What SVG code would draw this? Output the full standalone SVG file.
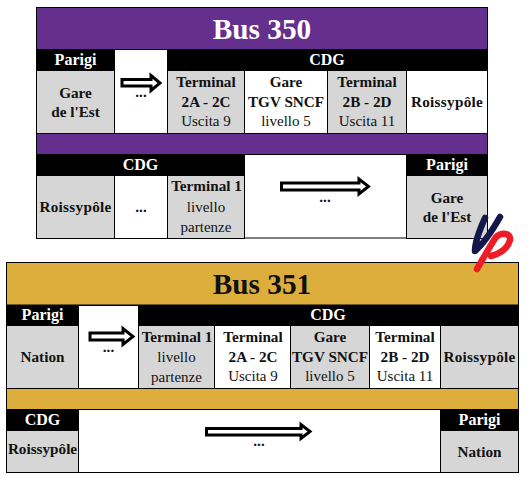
<svg xmlns="http://www.w3.org/2000/svg" width="532" height="478" viewBox="0 0 532 478">
<style>
text{font-family:"Liberation Serif","Times New Roman",serif;text-anchor:middle;fill:#111}
.b{font-weight:bold;font-size:15.2px}
.s{letter-spacing:.3px}
.r{font-size:15px}
.w{font-weight:bold;font-size:16px;fill:#fff}
.t{font-weight:bold;font-size:29.3px}
.k{fill:#000}
.g{fill:#d6d6d6;stroke:#000}
.n{fill:#fff;stroke:#000}
.ar{fill:#fff;stroke:#000;stroke-width:3}
</style>
<rect width="532" height="478" fill="#fff"/>
<g id="bus350">
<rect x="36.5" y="7.5" width="451" height="230.5" fill="#fff" stroke="#000"/>
<rect x="36.5" y="7.5" width="451" height="42" fill="#652f8e" stroke="#000"/>
<text class="t" x="262" y="39" style="fill:#fff">Bus 350</text>
<rect x="36.5" y="133.5" width="451" height="21" fill="#652f8e" stroke="#000"/>
</g>
<g id="bus350-parigi-top">
<rect class="k" x="36" y="49" width="79" height="21"/>
<text class="w" x="75.5" y="65">Parigi</text>
<rect class="g" x="36.5" y="70.5" width="78" height="63"/>
<text class="b" x="75.5" y="98">Gare</text>
<text class="b" x="75.5" y="117">de l'Est</text>
</g>
<g id="bus350-dots-top">
<rect class="n" x="114.5" y="49.5" width="53" height="84"/>
<text class="b" x="141" y="97">...</text>
</g>
<g id="bus350-cdg-top">
<rect class="k" x="167" y="49" width="321" height="21"/>
<text class="w" x="327" y="65">CDG</text>
</g>
<g id="bus350-t2a">
<rect class="g" x="167.5" y="70.5" width="77" height="63"/>
<text class="b" x="206" y="87">Terminal</text>
<text class="b" x="206" y="107">2A - 2C</text>
<text class="r" x="206" y="126">Uscita 9</text>
</g>
<g id="bus350-tgv">
<rect class="n" x="244.5" y="70.5" width="83" height="63"/>
<text class="b" x="286" y="87">Gare</text>
<text class="b" x="286" y="107">TGV SNCF</text>
<text class="r" x="286" y="126">livello 5</text>
</g>
<g id="bus350-t2b">
<rect class="g" x="327.5" y="70.5" width="79" height="63"/>
<text class="b" x="367" y="87">Terminal</text>
<text class="b" x="367" y="107">2B - 2D</text>
<text class="r" x="367" y="126">Uscita 11</text>
</g>
<g id="bus350-roissy-top">
<rect class="n" x="406.5" y="70.5" width="81" height="63"/>
<text class="b s" x="447" y="107">Roissypôle</text>
</g>
<g id="bus350-cdg-bottom">
<rect class="k" x="36" y="154" width="209" height="21"/>
<text class="w" x="140.5" y="170">CDG</text>
</g>
<g id="bus350-roissy-bottom">
<rect class="g" x="36.5" y="175.5" width="78" height="63"/>
<text class="b s" x="75.5" y="212">Roissypôle</text>
</g>
<g id="bus350-dots-bottom">
<rect class="n" x="114.5" y="175.5" width="53" height="63"/>
<text class="b" x="141" y="212">...</text>
</g>
<g id="bus350-t1">
<rect class="g" x="167.5" y="175.5" width="77" height="63"/>
<text class="b" x="206.5" y="191">Terminal 1</text>
<text class="r" x="206" y="212">livello</text>
<text class="r" x="206" y="232">partenze</text>
</g>
<g id="bus350-mid">
<text class="b" x="325" y="202">...</text>
</g>
<g id="bus350-parigi-bottom">
<rect class="k" x="406" y="154" width="82" height="21"/>
<text class="w" x="447" y="170">Parigi</text>
<rect class="g" x="406.5" y="175.5" width="81" height="63"/>
<text class="b" x="447" y="203">Gare</text>
<text class="b" x="447" y="222">de l'Est</text>
</g>
<g id="bus351">
<rect x="6.5" y="262.5" width="512" height="210" fill="#fff" stroke="#000"/>
<rect x="6.5" y="262.5" width="512" height="42.5" fill="#deae3c" stroke="#000"/>
<text class="t" x="262" y="294">Bus 351</text>
<rect x="6.5" y="388.5" width="512" height="21" fill="#deae3c" stroke="#000"/>
</g>
<g id="bus351-parigi-top">
<rect class="k" x="6" y="305" width="73" height="21"/>
<text class="w" x="42.5" y="320">Parigi</text>
<rect class="g" x="6.5" y="325.5" width="72" height="63"/>
<text class="b" x="42.5" y="362">Nation</text>
</g>
<g id="bus351-dots-top">
<rect class="n" x="78.5" y="305.5" width="60" height="83"/>
<text class="b" x="108.5" y="352">...</text>
</g>
<g id="bus351-cdg-top">
<rect class="k" x="138" y="305" width="381" height="21"/>
<text class="w" x="328" y="320">CDG</text>
</g>
<g id="bus351-t1">
<rect class="g" x="138.5" y="325.5" width="76" height="63"/>
<text class="b" x="177" y="342">Terminal 1</text>
<text class="r" x="176.5" y="362">livello</text>
<text class="r" x="176.5" y="382">partenze</text>
</g>
<g id="bus351-t2a">
<rect class="n" x="214.5" y="325.5" width="76" height="63"/>
<text class="b" x="253" y="342">Terminal</text>
<text class="b" x="253" y="362">2A - 2C</text>
<text class="r" x="253" y="381">Uscita 9</text>
</g>
<g id="bus351-tgv">
<rect class="g" x="290.5" y="325.5" width="79" height="63"/>
<text class="b" x="330" y="342">Gare</text>
<text class="b" x="330" y="362">TGV SNCF</text>
<text class="r" x="330" y="381">livello 5</text>
</g>
<g id="bus351-t2b">
<rect class="n" x="369.5" y="325.5" width="71" height="63"/>
<text class="b" x="405" y="342">Terminal</text>
<text class="b" x="405" y="362">2B - 2D</text>
<text class="r" x="405" y="381">Uscita 11</text>
</g>
<g id="bus351-roissy-top">
<rect class="g" x="440.5" y="325.5" width="78" height="63"/>
<text class="b s" x="479.5" y="362">Roissypôle</text>
</g>
<g id="bus351-cdg-bottom">
<rect class="k" x="6" y="409" width="73" height="22"/>
<text class="w" x="42.5" y="425">CDG</text>
<rect class="g" x="6.5" y="430.5" width="72" height="42"/>
<text class="b" x="42.5" y="454">Roissypôle</text>
</g>
<g id="bus351-mid">
<text class="b" x="259" y="446">...</text>
</g>
<g id="bus351-parigi-bottom">
<rect class="k" x="440" y="409" width="79" height="22"/>
<text class="w" x="479.5" y="425">Parigi</text>
<rect class="g" x="440.5" y="430.5" width="78" height="42"/>
<text class="b" x="479.5" y="457">Nation</text>
</g>
<g id="connectors">
<polygon class="ar" points="122,79.5 151,79.5 151,75.5 160,83 151,90.5 151,86 122,86"/>
<polygon class="ar" points="281.5,183 359,183 359,179 368.5,186.5 359,194 359,190 281.5,190"/>
<polygon class="ar" points="90,333 123,333 123,328.5 133,336.5 123,344.5 123,340 90,340"/>
<polygon class="ar" points="206.5,428.5 301,428.5 301,424.5 310,431.5 301,438.5 301,435 206.5,435"/>
</g>
<g id="logo" fill="none" stroke-linecap="round" stroke-linejoin="round">
<path d="M485,218 C480,229 475,241 475,251 C483,244 492,231 500,217" stroke="#14174a" stroke-width="6.5"/>
<path d="M477,269 C484,257 490,246 496,237 C502,232 511,233 510,240 C508,248 500,254 491,256" stroke="#ee1c25" stroke-width="6.5"/>
</g>
</svg>
